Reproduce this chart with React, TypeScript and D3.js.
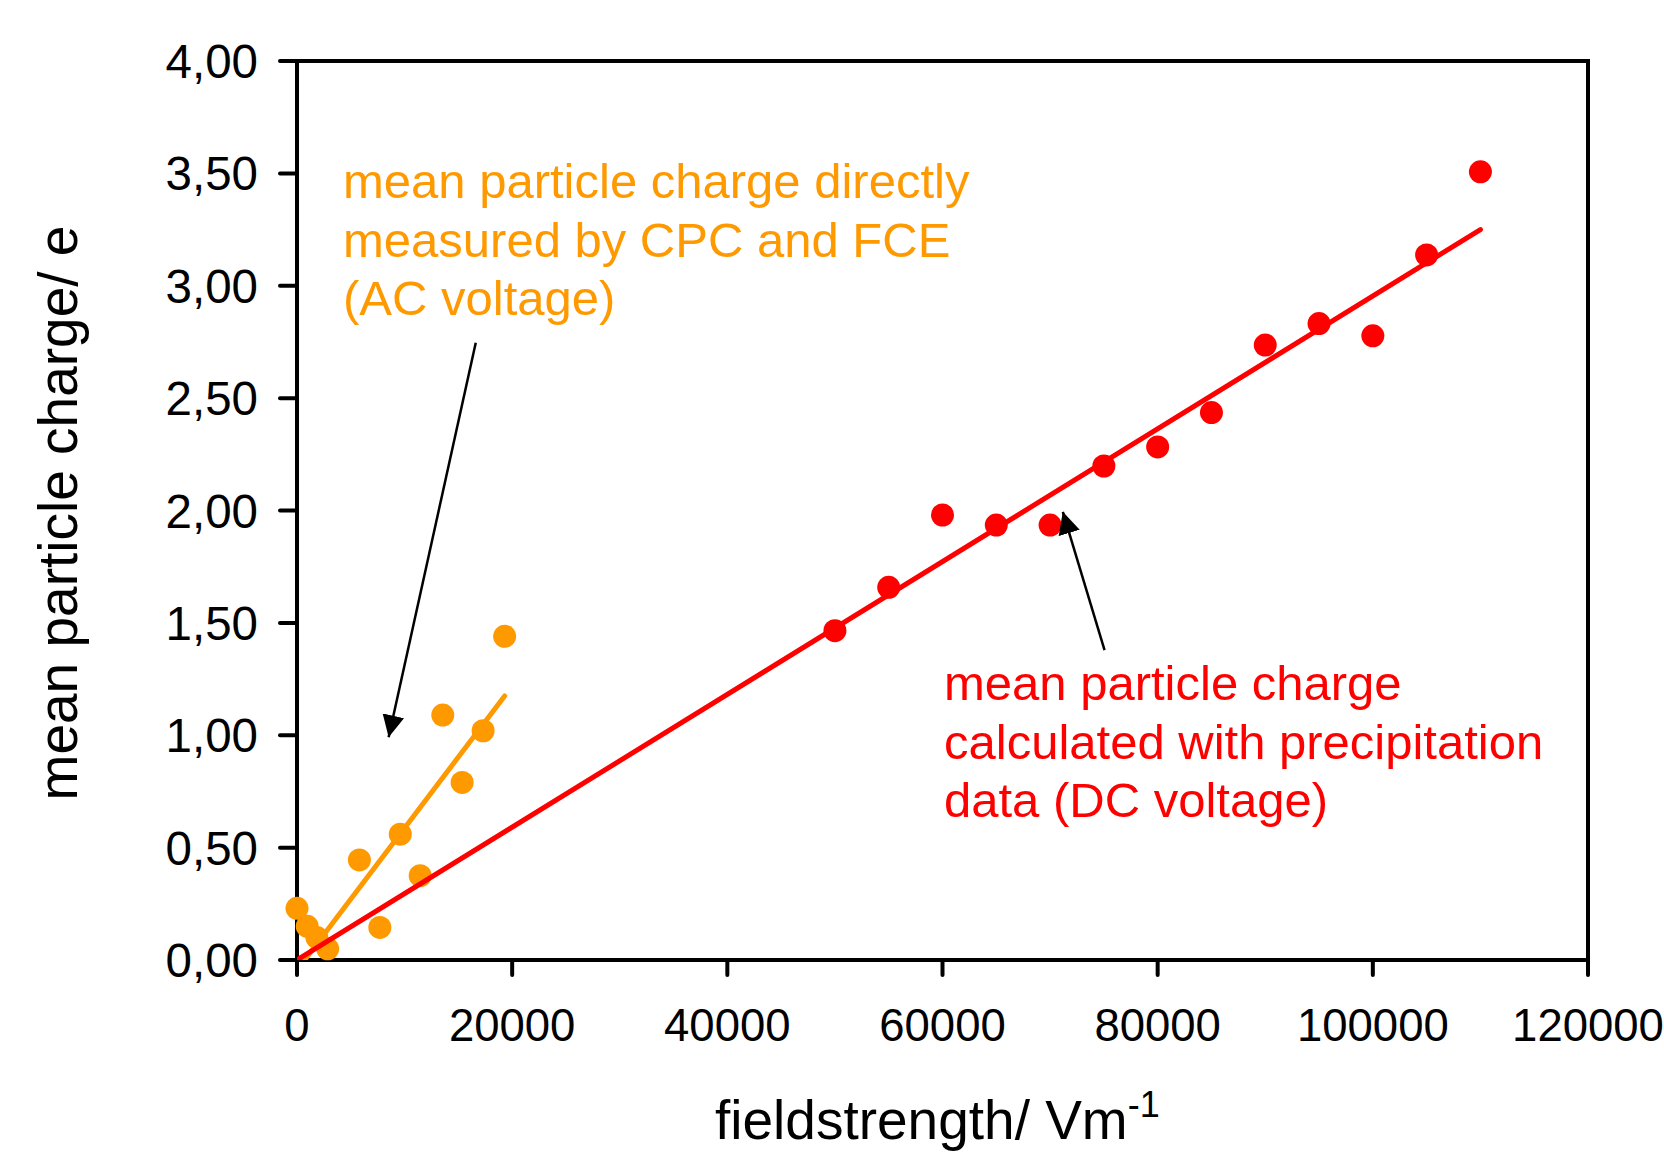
import React, { useRef, useEffect } from "react";
import * as d3 from "d3";

// AC: measured directly with CPC and FCE
const acField = [0, 950, 1850, 2850, 5800, 7700, 9600, 11450, 13550, 15350, 17300, 19300];
const acCharge = [0.23, 0.15, 0.1, 0.05, 0.445, 0.145, 0.56, 0.375, 1.09, 0.79, 1.02, 1.44];

// DC: calculated from precipitation data
const dcField = [50000, 55000, 60000, 65000, 70000, 75000, 80000, 85000, 90000, 95000, 100000, 105000, 110000];
const dcCharge = [1.465, 1.658, 1.98, 1.935, 1.935, 2.198, 2.283, 2.436, 2.736, 2.832, 2.777, 3.137, 3.507];

// trend lines (end points)
const acFitX = [0, 19300];
const acFitY = [-0.045, 1.175];
const dcFitX = [0, 110000];
const dcFitY = [0, 3.25];

const xTicks = [0, 20000, 40000, 60000, 80000, 100000, 120000];
const yTicks = [0, 0.5, 1, 1.5, 2, 2.5, 3, 3.5, 4];

const acNote = ["mean particle charge directly", "measured by CPC and FCE", "(AC voltage)"];
const dcNote = ["mean particle charge", "calculated with precipitation", "data (DC voltage)"];

const ORANGE = "#FF9900";
const RED = "#FF0000";
const FONT = "'Liberation Sans', Arial, sans-serif";

export default function App() {
  const ref = useRef<SVGSVGElement | null>(null);

  useEffect(() => {
    const W = 1664;
    const H = 1154;
    const left = 297, right = 1588, top = 61, bottom = 960;

    const x = d3.scaleLinear().domain([0, 120000]).range([left, right]);
    const y = d3.scaleLinear().domain([0, 4]).range([bottom, top]);

    const svg = d3.select(ref.current).html("").attr("width", W).attr("height", H);
    svg.append("rect").attr("width", W).attr("height", H).attr("fill", "#fff");

    const defs = svg.append("defs");
    defs.append("clipPath")
      .attr("id", "plot")
      .append("rect")
      .attr("x", left)
      .attr("y", top)
      .attr("width", right - left)
      .attr("height", bottom - top);

    defs.append("marker")
      .attr("id", "head")
      .attr("viewBox", "0 0 10 10")
      .attr("refX", 10)
      .attr("refY", 5)
      .attr("markerUnits", "userSpaceOnUse")
      .attr("markerWidth", 22)
      .attr("markerHeight", 22)
      .attr("orient", "auto")
      .append("path")
      .attr("d", "M0,0 L10,5 L0,10 z")
      .attr("fill", "#000");

    // y ticks + labels
    svg.append("g")
      .selectAll("line")
      .data(yTicks)
      .enter()
      .append("line")
      .attr("x1", left - 17)
      .attr("x2", left)
      .attr("y1", (d) => y(d))
      .attr("y2", (d) => y(d))
      .attr("stroke", "#000")
      .attr("stroke-width", 4)
      .attr("stroke-linecap", "round");

    svg.append("g")
      .selectAll("text")
      .data(yTicks)
      .enter()
      .append("text")
      .attr("x", 258)
      .attr("y", (d) => y(d))
      .attr("dy", "0.36em")
      .attr("text-anchor", "end")
      .attr("font-family", FONT)
      .attr("font-size", 47.5)
      .text((d) => d3.format(".2f")(d).replace(".", ","));

    // x ticks + labels
    svg.append("g")
      .selectAll("line")
      .data(xTicks)
      .enter()
      .append("line")
      .attr("x1", (d) => x(d))
      .attr("x2", (d) => x(d))
      .attr("y1", bottom)
      .attr("y2", bottom + 15)
      .attr("stroke", "#000")
      .attr("stroke-width", 4)
      .attr("stroke-linecap", "round");

    svg.append("g")
      .selectAll("text")
      .data(xTicks)
      .enter()
      .append("text")
      .attr("x", (d) => x(d))
      .attr("y", 1041)
      .attr("text-anchor", "middle")
      .attr("font-family", FONT)
      .attr("font-size", 45.5)
      .text((d) => String(d));

    // plot frame
    svg.append("rect")
      .attr("x", left)
      .attr("y", top)
      .attr("width", right - left)
      .attr("height", bottom - top)
      .attr("fill", "none")
      .attr("stroke", "#000")
      .attr("stroke-width", 4);

    // AC points (not clipped, the x=0 point sits on the axis)
    svg.append("g")
      .selectAll("circle")
      .data(acField)
      .enter()
      .append("circle")
      .attr("cx", (d) => x(d))
      .attr("cy", (d, i) => y(acCharge[i]))
      .attr("r", 11.5)
      .attr("fill", ORANGE);

    const line = d3.line<number>()
      .x((d) => x(d[0]))
      .y((d) => y(d[1]));

    const plot = svg.append("g").attr("clip-path", "url(#plot)");

    plot.append("path")
      .attr("d", line(acFitX.map((v, i) => [v, acFitY[i]])))
      .attr("stroke", ORANGE)
      .attr("stroke-width", 5)
      .attr("stroke-linecap", "round")
      .attr("fill", "none");

    plot.append("path")
      .attr("d", line(dcFitX.map((v, i) => [v, dcFitY[i]])))
      .attr("stroke", RED)
      .attr("stroke-width", 5)
      .attr("stroke-linecap", "round")
      .attr("fill", "none");

    svg.append("g")
      .selectAll("circle")
      .data(dcField)
      .enter()
      .append("circle")
      .attr("cx", (d) => x(d))
      .attr("cy", (d, i) => y(dcCharge[i]))
      .attr("r", 11.5)
      .attr("fill", RED);

    // annotation arrows
    const arrows = [
      [16616, 2.746, 8517, 0.991],
      [75063, 1.379, 71186, 1.994],
    ];
    svg.append("g")
      .selectAll("line")
      .data(arrows)
      .enter()
      .append("line")
      .attr("x1", (d) => x(d[0]))
      .attr("y1", (d) => y(d[1]))
      .attr("x2", (d) => x(d[2]))
      .attr("y2", (d) => y(d[3]))
      .attr("stroke", "#000")
      .attr("stroke-width", 2.5)
      .attr("marker-end", "url(#head)");

    // annotation texts
    svg.append("g")
      .selectAll("text")
      .data(acNote)
      .enter()
      .append("text")
      .attr("x", 343)
      .attr("y", (d, i) => 198 + i * 58.5)
      .attr("font-family", FONT)
      .attr("font-size", 49)
      .attr("fill", ORANGE)
      .text((d) => d);

    svg.append("g")
      .selectAll("text")
      .data(dcNote)
      .enter()
      .append("text")
      .attr("x", 944)
      .attr("y", (d, i) => 700 + i * 58.5)
      .attr("font-family", FONT)
      .attr("font-size", 49)
      .attr("fill", RED)
      .text((d) => d);

    // axis titles
    const xt = svg.append("text")
      .attr("x", 715)
      .attr("y", 1139)
      .attr("font-family", FONT)
      .attr("font-size", 55);
    xt.append("tspan").text("fieldstrength/ Vm");
    xt.append("tspan").attr("dy", -22).attr("font-size", 36).text("-1");

    svg.append("text")
      .attr("transform", "translate(77,513) rotate(-90)")
      .attr("text-anchor", "middle")
      .attr("font-family", FONT)
      .attr("font-size", 55)
      .text("mean particle charge/ e");
  }, []);

  return (
    <div>
      <svg ref={ref} style={{ position: "absolute", left: 0, top: 0 }}></svg>
    </div>
  );
}
